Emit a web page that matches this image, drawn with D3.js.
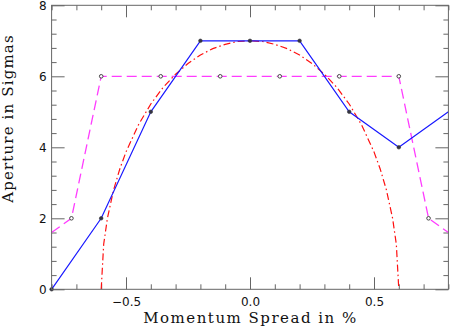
<!DOCTYPE html>
<html>
<head>
<meta charset="utf-8">
<script src="https://cdn.jsdelivr.net/npm/d3@7"></script>
<style>
	body { margin: 0; background: #fff; }
	svg { display: block; }
</style>
</head>
<body>
<svg width="450" height="331"></svg>
<script>

const MARGIN = { top: 5.3, right: 1.6, bottom: 41.7, left: 51.6 };

// blue solid line, filled dots
const blueX = [-0.8, -0.6, -0.4, -0.2, 0.0, 0.2, 0.4, 0.6, 0.8];
const blueY = [0, 2, 5, 7, 7, 7, 5, 4, 5];
const blueMarked = [true, true, true, true, true, true, true, true, false];

// magenta dashed line, open circles
const pinkX = [-0.8, -0.72, -0.6, -0.36, -0.12, 0.12, 0.36, 0.6, 0.72, 0.8];
const pinkY = [1.6, 2, 6, 6, 6, 6, 6, 6, 2, 1.6];
const pinkMarked = [false, true, true, true, true, true, true, true, true, false];

// red dash-dot curve
const redX = [-0.6, -0.59, -0.575, -0.55, -0.525, -0.5, -0.45, -0.4, -0.35, -0.3, -0.25, -0.2, -0.15, -0.1, -0.05,
	0.0, 0.05, 0.1, 0.15, 0.2, 0.25, 0.3, 0.35, 0.4, 0.45, 0.5, 0.525, 0.55, 0.575, 0.59, 0.6];
const redY = [0, 1.27, 2.0, 2.8, 3.39, 3.87, 4.63, 5.22, 5.69, 6.06, 6.36, 6.6, 6.78, 6.9, 6.98,
	7.0, 6.98, 6.9, 6.78, 6.6, 6.36, 6.06, 5.69, 5.22, 4.63, 3.87, 3.39, 2.8, 2.0, 1.27, 0];

const xMajor = [-0.5, 0.0, 0.5];
const xMinor = [-0.8, -0.7, -0.6, -0.4, -0.3, -0.2, -0.1, 0.1, 0.2, 0.3, 0.4, 0.6, 0.7, 0.8];
const xLabels = ['\u22120.5', '0.0', '0.5'];
const yMajor = [0, 2, 4, 6, 8];
const yMinor = [0.4, 0.8, 1.2, 1.6, 2.4, 2.8, 3.2, 3.6, 4.4, 4.8, 5.2, 5.6, 6.4, 6.8, 7.2, 7.6];

const xTitle = 'Momentum Spread in %';
const yTitle = 'Aperture in Sigmas';

const AXIS_COLOR = '#666';

let svg = d3.select('svg');
let width = svg.attr('width') - MARGIN.left - MARGIN.right;
let height = svg.attr('height') - MARGIN.top - MARGIN.bottom;

let x = d3.scaleLinear().domain([-0.8, 0.8]).range([0, width]);
let y = d3.scaleLinear().domain([0, 8]).range([height, 0]);

let g = svg.append('g')
	.attr('transform', 'translate(' + MARGIN.left + ' ' + MARGIN.top + ')');

// ticks, all pointing inward, on four sides
function tickAxis(axis, pos) {
	let a = g.append('g').attr('transform', pos).call(axis);
	a.select('.domain').remove();
	a.selectAll('line').attr('stroke', AXIS_COLOR);
	return a;
}

tickAxis(d3.axisBottom(x).tickValues(xMinor).tickSize(-5).tickFormat(''), 'translate(0,' + height + ')');
tickAxis(d3.axisTop(x).tickValues(xMinor).tickSize(-5).tickFormat(''), 'translate(0,0)');
tickAxis(d3.axisTop(x).tickValues(xMajor).tickSize(-12).tickFormat(''), 'translate(0,0)');
let xAx = tickAxis(d3.axisBottom(x).tickValues(xMajor).tickSize(-12).tickPadding(8)
	.tickFormat((d, i) => xLabels[i]), 'translate(0,' + height + ')');

tickAxis(d3.axisLeft(y).tickValues(yMinor).tickSize(-5).tickFormat(''), 'translate(0,0)');
tickAxis(d3.axisRight(y).tickValues(yMinor).tickSize(-5).tickFormat(''), 'translate(' + width + ',0)');
tickAxis(d3.axisRight(y).tickValues(yMajor).tickSize(-13).tickFormat(''), 'translate(' + width + ',0)');
let yAx = tickAxis(d3.axisLeft(y).tickValues(yMajor).tickSize(-13).tickPadding(5)
	.tickFormat(d3.format('d')), 'translate(0,0)');

[xAx, yAx].forEach(a => a.selectAll('text')
	.attr('fill', '#111')
	.style('font-family', '"DejaVu Sans", sans-serif')
	.style('font-size', '12px'));

// lines
let clip = g.append('clipPath').attr('id', 'plot-clip')
	.append('rect').attr('width', width).attr('height', height);

let plot = g.append('g').attr('clip-path', 'url(#plot-clip)');

let line = d3.line().x(d => x(d[0])).y(d => y(d[1]));

let redData = redX.map((v, i) => [v, redY[i]]);
let pinkData = pinkX.map((v, i) => [v, pinkY[i]]);
let blueData = blueX.map((v, i) => [v, blueY[i]]);

plot.append('path')
	.datum(pinkData)
	.attr('d', line)
	.attr('fill', 'none')
	.attr('stroke', '#ff3cff')
	.attr('stroke-width', 1.3)
	.attr('stroke-dasharray', '10 5');

plot.append('path')
	.datum(redData)
	.attr('d', line)
	.attr('fill', 'none')
	.attr('stroke', '#ff1010')
	.attr('stroke-width', 1.2)
	.attr('stroke-dasharray', '7 3 1.5 3');

plot.append('path')
	.datum(blueData)
	.attr('d', line)
	.attr('fill', 'none')
	.attr('stroke', '#1a1aff')
	.attr('stroke-width', 1.2);

// markers
g.selectAll('.pink-dot')
	.data(pinkData.filter((d, i) => pinkMarked[i]))
	.enter()
	.append('circle')
	.attr('class', 'pink-dot')
	.attr('cx', d => x(d[0]))
	.attr('cy', d => y(d[1]))
	.attr('r', 1.8)
	.attr('fill', '#fff')
	.attr('stroke', '#333')
	.attr('stroke-width', 0.9);

g.selectAll('.blue-dot')
	.data(blueData.filter((d, i) => blueMarked[i]))
	.enter()
	.append('circle')
	.attr('class', 'blue-dot')
	.attr('cx', d => x(d[0]))
	.attr('cy', d => y(d[1]))
	.attr('r', 1.8)
	.attr('fill', '#334')
	.attr('stroke', '#333')
	.attr('stroke-width', 0.6);

// frame
g.append('rect')
	.attr('width', width)
	.attr('height', height)
	.attr('fill', 'none')
	.attr('stroke', AXIS_COLOR)
	.attr('stroke-width', 1);

// titles
svg.append('text')
	.attr('x', 250.5)
	.attr('y', 323)
	.attr('text-anchor', 'middle')
	.style('font-family', '"DejaVu Serif", serif')
	.style('font-size', '15px')
	.style('letter-spacing', '1.5px')
	.attr('fill', '#111')
	.text(xTitle);

svg.append('text')
	.attr('transform', 'translate(13 118.5) rotate(-90)')
	.attr('text-anchor', 'middle')
	.style('font-family', '"DejaVu Serif", serif')
	.style('font-size', '15px')
	.style('letter-spacing', '1.15px')
	.attr('fill', '#111')
	.text(yTitle);

</script>
</body>
</html>
